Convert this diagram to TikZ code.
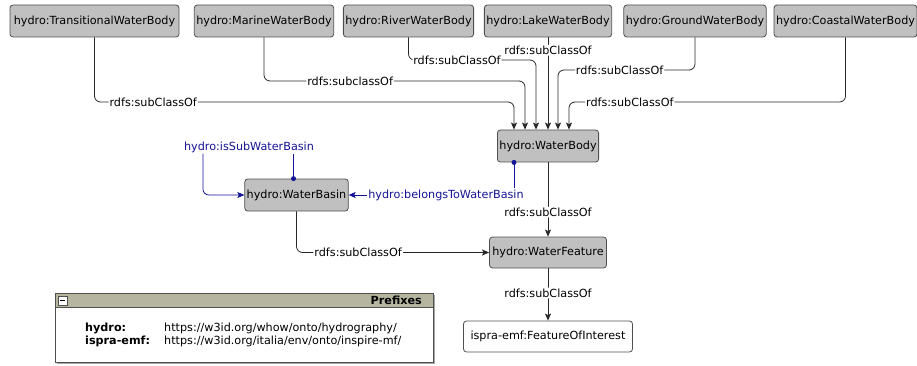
\documentclass[tikz,border=0pt]{standalone}
\usepackage{fontspec}
\setmainfont{DejaVu Sans}
\usetikzlibrary{arrows.meta}
\definecolor{clsgray}{RGB}{192,192,192}
\definecolor{clsborder}{RGB}{80,80,80}
\definecolor{linegray}{RGB}{40,40,40}
\definecolor{propblue}{RGB}{20,20,150}
\definecolor{headolive}{RGB}{182,182,160}
\begin{document}
\begin{tikzpicture}[x=1pt, y=-1pt, font=\fontsize{11.2}{13}\selectfont]
    % Define styles
    \tikzset{
        cls/.style={
            draw=clsborder,
            fill=clsgray,
            line width=0.8pt,
            rounded corners=3pt,
            minimum height=32pt,
            inner sep=2pt
        },
        extcls/.style={
            cls,
            fill=white,
            minimum height=31pt
        },
        lbl/.style={
            fill=white,
            inner sep=1pt
        },
        proplbl/.style={
            lbl,
            text=propblue
        },
        arrow/.style={
            -{Stealth[length=7pt,width=6pt,inset=1.5pt]},
            draw=linegray,
            line width=0.8pt,
            rounded corners=6pt
        },
        proparrow/.style={
            arrow,
            draw=propblue,
            -{Stealth[length=7pt,width=6pt,inset=1.5pt]}
        },
        propline/.style={
            draw=propblue,
            line width=0.8pt
        },
        dot/.style={
            circle,
            fill=propblue,
            inner sep=0pt,
            minimum size=5pt
        }
    }
    \useasboundingbox (0,0) rectangle (917,366);

    % Top row: kinds of water bodies
    \node[cls, minimum width=169pt] (transitional) at (94.5,21) {hydro:TransitionalWaterBody};
    \node[cls, minimum width=136pt] (marine) at (264,21) {hydro:MarineWaterBody};
    \node[cls, minimum width=129pt] (river) at (408.5,21) {hydro:RiverWaterBody};
    \node[cls, minimum width=124pt] (lake) at (548,21) {hydro:LakeWaterBody};
    \node[cls, minimum width=142pt] (ground) at (695,21) {hydro:GroundWaterBody};
    \node[cls, minimum width=135pt] (coastal) at (845.5,21) {hydro:CoastalWaterBody};

    % Middle classes
    \node[cls, minimum width=100pt] (waterbody) at (548,146) {hydro:WaterBody};
    \node[cls, minimum width=99pt] (basin) at (296.5,195) {hydro:WaterBasin};
    \node[cls, minimum width=117pt, minimum height=31pt] (feature) at (548,252.5) {hydro:WaterFeature};
    \node[extcls, minimum width=169pt] (foi) at (548,336.5) {ispra-emf:FeatureOfInterest};

    % Entry points on top of WaterBody
    \coordinate (in1) at ([xshift=-34pt]waterbody.north);
    \coordinate (in2) at ([xshift=-23pt]waterbody.north);
    \coordinate (in3) at ([xshift=-12pt]waterbody.north);
    \coordinate (in5) at ([xshift=10pt]waterbody.north);
    \coordinate (in6) at ([xshift=21pt]waterbody.north);

    % Subclass connections into WaterBody
    \draw[arrow] (transitional.south) -- (transitional.south |- 0,102) -- node[lbl, pos=0.14] {rdfs:subClassOf} (in1 |- 0,102) -- (in1);
    \draw[arrow] (marine.south) -- (marine.south |- 0,81) -- node[lbl, pos=0.33] {rdfs:subclassOf} (in2 |- 0,81) -- (in2);
    \draw[arrow] (river.south) -- (river.south |- 0,60) -- node[lbl, pos=0.38] {rdfs:subClassOf} (in3 |- 0,60) -- (in3);
    \draw[arrow] (lake) -- node[lbl, pos=0.14] {rdfs:subClassOf} (waterbody);
    \draw[arrow] (ground.south) -- (ground.south |- 0,70) -- node[lbl, pos=0.55] {rdfs:subClassOf} (in5 |- 0,70) -- (in5);
    \draw[arrow] (coastal.south) -- (coastal.south |- 0,102) -- node[lbl, pos=0.78] {rdfs:subClassOf} (in6 |- 0,102) -- (in6);

    % Subclass connections below
    \draw[arrow] (waterbody) -- node[lbl, pos=0.67] {rdfs:subClassOf} (feature);
    \draw[arrow] (basin.south) |- node[lbl, pos=0.66] {rdfs:subClassOf} (feature.west);
    \draw[arrow] (feature) -- node[lbl, pos=0.47] {rdfs:subClassOf} (foi);

    % Object properties
    \node[proplbl] (sublbl) at (249,147) {hydro:isSubWaterBasin};
    \coordinate (bdot) at ([xshift=-3pt]basin.north);
    \draw[propline] (bdot) -- (bdot |- sublbl.south);
    \node[dot] (bdotmark) at (bdot) {};
    \draw[proparrow] ([xshift=20pt]sublbl.south west) |- (basin.west);

    \node[proplbl] (belbl) at (446,195) {hydro:belongsToWaterBasin};
    \coordinate (wdot) at ([xshift=-34pt]waterbody.south);
    \draw[propline] (wdot) -- (wdot |- belbl.north);
    \node[dot] (wdotmark) at (wdot) {};
    \draw[proparrow] (belbl.west) -- (basin.east);

    % Prefixes panel
    \fill[black!35] (57,295) rectangle (435,364);
    \draw[draw=clsborder, fill=white, line width=0.8pt] (55,293) rectangle (433,362);
    \draw[draw=clsborder, fill=headolive, line width=0.8pt] (55,293) rectangle (433,307);
    \draw[draw=clsborder, fill=white, line width=0.6pt] (58,296) rectangle (67,305);
    \draw[line width=1pt] (60,300.5) -- (65,300.5);
    \node[anchor=east, font=\fontsize{11.2}{13}\selectfont\bfseries, inner sep=0pt] (prefixtitle) at (422,300.5) {Prefixes};
    \node[anchor=west, font=\fontsize{11.2}{13}\selectfont\bfseries, inner sep=0pt] (hydropfx) at (85,328) {hydro:};
    \node[anchor=west, inner sep=0pt] (hydrouri) at (164,328) {https://w3id.org/whow/onto/hydrography/};
    \node[anchor=west, font=\fontsize{11.2}{13}\selectfont\bfseries, inner sep=0pt] (ispfx) at (85,341) {ispra-emf:};
    \node[anchor=west, inner sep=0pt] (isuri) at (164,341) {https://w3id.org/italia/env/onto/inspire-mf/};
\end{tikzpicture}
\end{document}
